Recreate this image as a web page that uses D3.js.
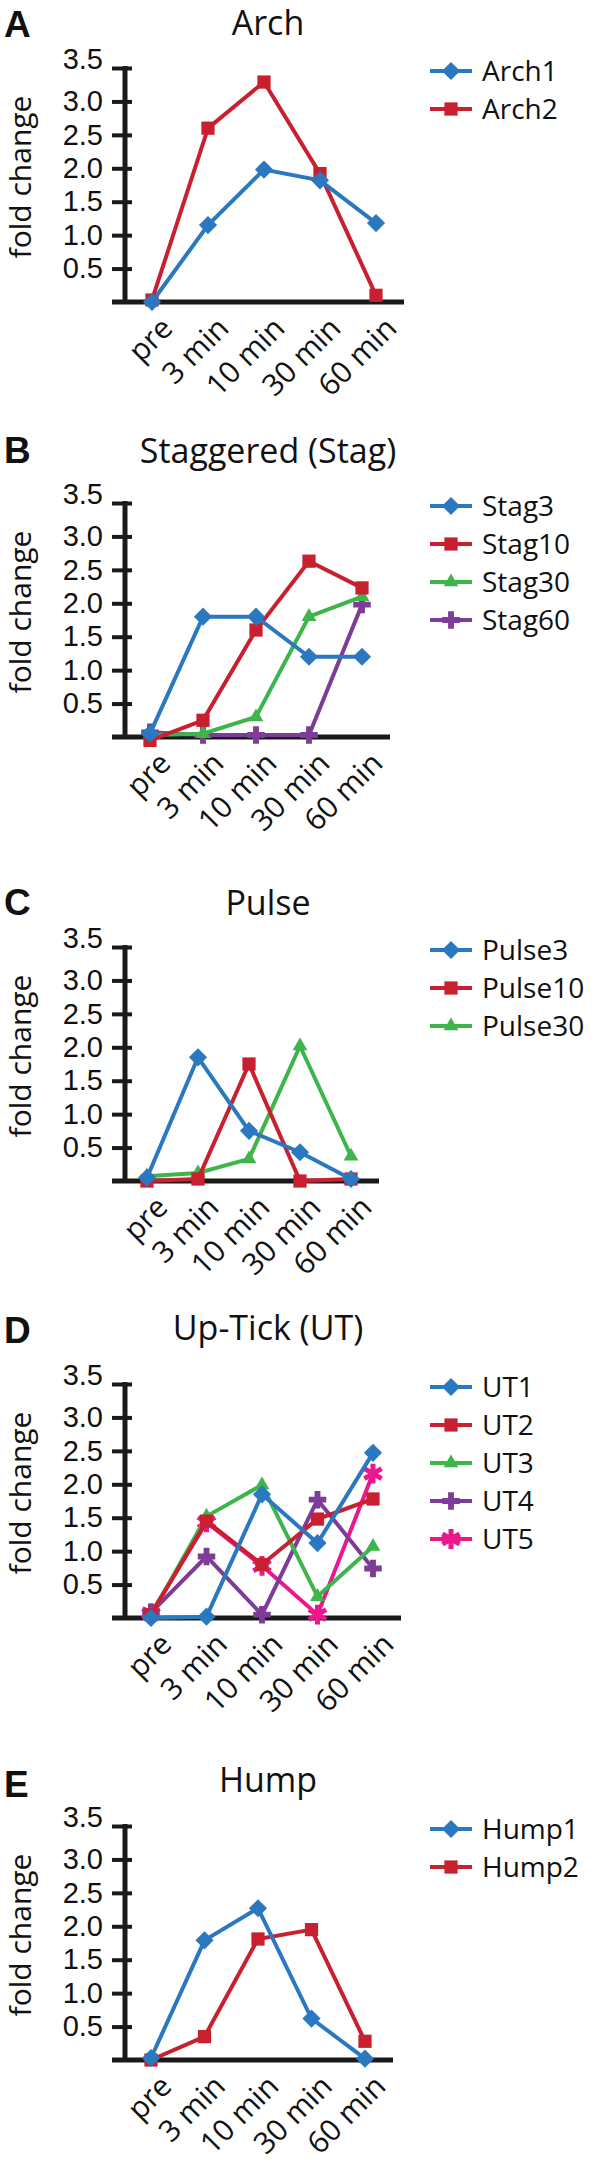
<!DOCTYPE html>
<html>
<head>
<meta charset="utf-8">
<script src="https://cdn.jsdelivr.net/npm/d3@7"></script>
<style>
  html, body { margin: 0; padding: 0; background: #fff; }
  svg { display: block; }
  text { font-family: "Open Sans", "Noto Sans", sans-serif; fill: #111; }
</style>
</head>
<body>
<svg id="chart" width="603" height="2166"></svg>
<script>
// ---------------- data ----------------
const categories = ["pre", "3 min", "10 min", "30 min", "60 min"];
const yTicks = [0.5, 1.0, 1.5, 2.0, 2.5, 3.0, 3.5];
const yTickLabels = ["0.5", "1.0", "1.5", "2.0", "2.5", "3.0", "3.5"];
const yLabel = "fold change";

const panelLetters = ["A", "B", "C", "D", "E"];
const panelTitles = ["Arch", "Staggered (Stag)", "Pulse", "Up-Tick (UT)", "Hump"];

const archNames = ["Arch1", "Arch2"];
const arch1 = [0.0, 1.15, 1.98, 1.82, 1.18];
const arch2 = [0.03, 2.6, 3.29, 1.92, 0.1];

const stagNames = ["Stag3", "Stag10", "Stag30", "Stag60"];
const stag3 = [0.05, 1.8, 1.8, 1.2, 1.2];
const stag10 = [-0.05, 0.25, 1.6, 2.63, 2.23];
const stag30 = [0.03, 0.05, 0.3, 1.8, 2.1];
const stag60 = [0.07, 0.03, 0.03, 0.03, 1.98];

const pulseNames = ["Pulse3", "Pulse10", "Pulse30"];
const pulse3 = [0.05, 1.85, 0.75, 0.43, 0.03];
const pulse10 = [0.0, 0.03, 1.75, 0.0, 0.03];
const pulse30 = [0.07, 0.12, 0.33, 2.02, 0.37];

const utNames = ["UT1", "UT2", "UT3", "UT4", "UT5"];
const ut1 = [0.0, 0.02, 1.85, 1.12, 2.47];
const ut2 = [0.05, 1.45, 0.8, 1.48, 1.78];
const ut3 = [0.04, 1.52, 1.99, 0.32, 1.07];
const ut4 = [0.08, 0.92, 0.05, 1.77, 0.74];
const ut5 = [0.07, 1.43, 0.78, 0.05, 2.16];

const humpNames = ["Hump1", "Hump2"];
const hump1 = [0.03, 1.79, 2.27, 0.62, 0.02];
const hump2 = [0.0, 0.35, 1.81, 1.95, 0.28];

// ---------------- styles ----------------
const seriesColors = ["#2a79c0", "#c8202f", "#3db54a", "#7d3c98", "#ec178c"];
const seriesShapes = ["diamond", "square", "triangle", "cross", "asterisk"];

const panels = [
  { names: archNames, values: [arch1, arch2] },
  { names: stagNames, values: [stag3, stag10, stag30, stag60] },
  { names: pulseNames, values: [pulse3, pulse10, pulse30] },
  { names: utNames, values: [ut1, ut2, ut3, ut4, ut5] },
  { names: humpNames, values: [hump1, hump2] }
];

// layout per panel
const layout = {
  top: [68, 503, 947, 1384, 1826],
  titleY: [35, 463, 915, 1340, 1792],
  letterY: [37, 463, 915, 1343, 1797],
  xPre: [152, 150, 147, 151, 151],
  xStep: [56, 53, 51, 55.5, 53.5],
  axisX: 125,
  plotH: 234,
  legendX: 430,
  legendRow: 38
};

const svg = d3.select("#chart");

function markerPath(shape) {
  switch (shape) {
    case "diamond": return d3.symbol(d3.symbolSquare, 165)();
    case "square": return d3.symbol(d3.symbolSquare, 175)();
    case "triangle": return d3.symbol(d3.symbolTriangle, 95)();
    case "cross": return d3.symbol(d3.symbolCross, 170)();
    case "asterisk": return d3.symbol(d3.symbolAsterisk, 280)();
  }
}

function drawMarker(g, shape, color, x, y) {
  const p = g.append("path")
    .attr("d", markerPath(shape))
    .attr("transform", `translate(${x},${y})` + (shape === "diamond" ? " rotate(45)" : ""));
  if (shape === "asterisk") {
    p.attr("fill", "none").attr("stroke", color).attr("stroke-width", 5);
  } else {
    p.attr("fill", color);
  }
}

panels.forEach((panel, i) => {
  const top = layout.top[i];
  const base = top + layout.plotH;
  const g = svg.append("g");

  const y = d3.scaleLinear().domain([0, 3.5]).range([base, top]);
  const x = d3.scalePoint().domain(categories)
    .range([layout.xPre[i], layout.xPre[i] + 4 * layout.xStep[i]]);
  const xEnd = layout.xPre[i] + 4 * layout.xStep[i] + 28;

  // letter + title
  g.append("text").attr("x", 4).attr("y", layout.letterY[i])
    .style("font-family", "'Liberation Sans', Arial, sans-serif")
    .style("font-weight", "bold").style("font-size", "37px")
    .text(panelLetters[i]);
  g.append("text").attr("x", 268).attr("y", layout.titleY[i])
    .attr("text-anchor", "middle").style("font-size", "34px")
    .text(panelTitles[i]);

  // y label
  g.append("text")
    .attr("transform", `translate(31,${(top + base) / 2 - 8}) rotate(-90)`)
    .attr("text-anchor", "middle").style("font-size", "30px")
    .text(yLabel);

  // y axis
  const yAxis = d3.axisLeft(y).tickValues(yTicks)
    .tickFormat((d, k) => yTickLabels[k]).tickSize(13).tickPadding(10);
  const ya = g.append("g").attr("transform", `translate(${layout.axisX},0)`).call(yAxis);
  ya.select(".domain").remove();
  ya.selectAll(".tick line").attr("stroke", "#1a1a1a").attr("stroke-width", 4)
    .attr("x2", -13).attr("x1", 7);
  ya.selectAll(".tick text").style("font-size", "29px")
    .style("font-family", "'Liberation Sans', Arial, sans-serif")
    .attr("fill", "#111").attr("x", -22);
  ya.selectAll(".tick text").filter(d => d === 3.5).attr("dy", "0.0em");
  g.append("line").attr("x1", layout.axisX).attr("x2", layout.axisX)
    .attr("y1", top - 2).attr("y2", base + 2)
    .attr("stroke", "#1a1a1a").attr("stroke-width", 5);

  // x axis
  const xAxis = d3.axisBottom(x).tickSize(0).tickPadding(0);
  const xa = g.append("g").attr("transform", `translate(0,${base})`).call(xAxis);
  xa.select(".domain").remove();
  xa.selectAll(".tick text")
    .style("font-size", "30px").style("font-family", "'Open Sans', sans-serif")
    .attr("fill", "#111")
    .attr("text-anchor", "end")
    .attr("y", 0).attr("dy", 0)
    .attr("transform", "translate(22,28) rotate(-45)");
  g.append("line").attr("x1", 112).attr("x2", xEnd)
    .attr("y1", base).attr("y2", base)
    .attr("stroke", "#1a1a1a").attr("stroke-width", 5);

  // series (draw in reverse so first series is on top)
  const order = panel.values.map((v, k) => k).reverse();
  const line = d3.line().x((d, k) => x(categories[k])).y(d => y(d));
  order.forEach(k => {
    const color = seriesColors[k];
    const sg = g.append("g");
    sg.append("path").datum(panel.values[k]).attr("d", line)
      .attr("fill", "none").attr("stroke", color).attr("stroke-width", 4)
      .attr("stroke-linejoin", "miter");
    panel.values[k].forEach((v, j) => drawMarker(sg, seriesShapes[k], color, x(categories[j]), y(v)));
  });

  // legend
  panel.names.forEach((name, k) => {
    const ly = top + 3 + k * layout.legendRow;
    const color = seriesColors[k];
    g.append("line").attr("x1", layout.legendX).attr("x2", layout.legendX + 42)
      .attr("y1", ly).attr("y2", ly).attr("stroke", color).attr("stroke-width", 4);
    drawMarker(g, seriesShapes[k], color, layout.legendX + 21, ly);
    g.append("text").attr("x", layout.legendX + 52).attr("y", ly).attr("dy", "0.35em")
      .style("font-size", "28px").text(name);
  });
});
</script>
</body>
</html>
